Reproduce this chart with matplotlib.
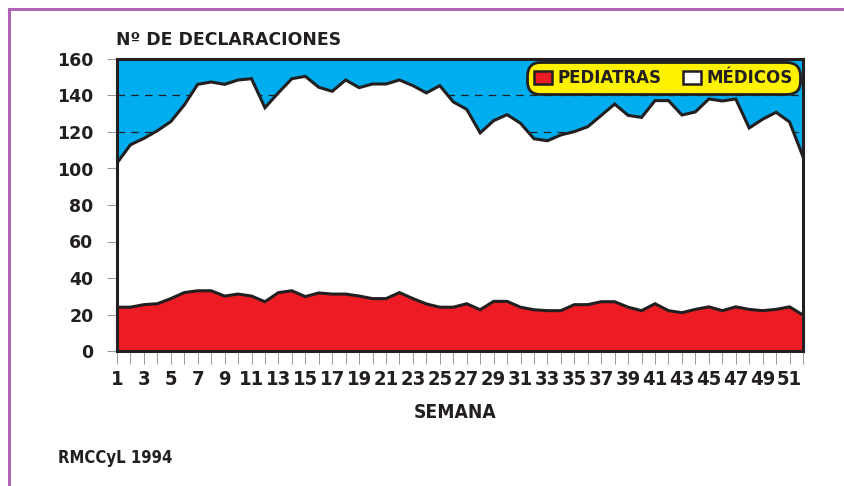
import matplotlib
matplotlib.use("Agg")
import matplotlib.pyplot as plt
from matplotlib.patches import Patch
from matplotlib.lines import Line2D

weeks = list(range(1, 53))
medicos = [103, 113, 116.5, 120.7, 125.7, 134.8, 146.1, 147.4, 146.1, 148.5,
           149.2, 133.3, 141.5, 149.2, 150.5, 144.5, 142.3, 148.5, 144.3, 146.3,
           146.3, 148.5, 145.4, 141.4, 145.4, 136.5, 132.4, 119.5, 126.2, 129.5,
           124.8, 116.3, 115.2, 118.4, 120.2, 122.9, 129.1, 135.3, 129.1, 128.0,
           137.2, 137.2, 129.3, 131.0, 138.1, 137.0, 138.1, 122.2, 127.0, 130.8,
           125.5, 106.5]
pediatras = [24, 24, 25.4, 25.9, 28.7, 32, 33, 33, 30.1, 31.2,
             30.1, 27, 32, 33, 29.8, 31.8, 31.2, 31.2, 30.1, 28.7,
             28.7, 32, 28.7, 25.8, 24, 24, 25.9, 22.6, 27.2, 27.2,
             24, 22.6, 22.1, 22.1, 25.4, 25.4, 27, 27, 24, 22.1,
             25.9, 22.1, 21, 22.8, 24.2, 22.1, 24.2, 22.8, 22.1, 22.8,
             24.2, 19.7]
yticks = [0, 20, 40, 60, 80, 100, 120, 140, 160]
xtick_labels = [str(w) if w % 2 == 1 else "" for w in weeks]
series_names = ["PEDIATRAS", "MÉDICOS"]

DARK = "#231f20"
BLUE = "#00aeef"
RED = "#ed1c24"
YELLOW = "#fff200"
PURPLE = "#b062b4"

W, H = 845, 486
fig = plt.figure(figsize=(W / 100, H / 100), dpi=100)
fig.patch.set_facecolor("white")

l, r, t, b = 117, 803, 59, 351
ax = fig.add_axes([l / W, 1 - b / H, (r - l) / W, (b - t) / H])
ax.set_facecolor(BLUE)
ax.set_axisbelow(True)

ax.fill_between(weeks, 0, medicos, color="white", zorder=2, linewidth=0)
ax.plot(weeks, medicos, color=DARK, lw=2.2, zorder=4, solid_joinstyle="miter")
ax.fill_between(weeks, 0, pediatras, color=RED, zorder=3, linewidth=0)
ax.plot(weeks, pediatras, color=DARK, lw=2.2, zorder=4, solid_joinstyle="miter")

ax.set_xlim(1, 52)
ax.set_ylim(0, 160)
ax.set_yticks(yticks)
ax.yaxis.grid(True, linestyle=(0, (6, 5)), color=DARK, linewidth=0.9)

BOLD = dict(family="DejaVu Sans", weight="bold")
COND = dict(family="DejaVu Sans", weight="bold", stretch="condensed")

ax.set_yticklabels([str(v) for v in yticks], size=12.5, color=DARK, **BOLD)
ax.set_xticks(weeks)
ax.set_xticklabels(xtick_labels, size=14.5, color=DARK, **COND)
ax.tick_params(axis="x", length=9, width=0.7, color="#9a9a9a", pad=5)
ax.tick_params(axis="y", length=7, width=0.7, color="#9a9a9a", pad=10)

for s in ax.spines.values():
    s.set_color(DARK)
    s.set_linewidth(2.2)
    s.set_zorder(5)

# title and labels
fig.text(116 / W, 1 - 40 / H, "Nº DE DECLARACIONES", size=12.4, color=DARK,
         va="center", ha="left", **BOLD)
fig.text(455 / W, 1 - 412 / H, "SEMANA", size=13.8, color=DARK,
         va="center", ha="center", **COND)
fig.text(58 / W, 1 - 458 / H, "RMCCyL 1994", size=12, color=DARK,
         va="center", ha="left", **COND)

# legend
handles = [Patch(facecolor=RED, edgecolor=DARK, linewidth=1.8, label=series_names[0]),
           Patch(facecolor="white", edgecolor=DARK, linewidth=1.8, label=series_names[1])]
leg = ax.legend(handles=handles, loc="upper right", ncol=2, frameon=True,
                fancybox=True, facecolor=YELLOW, edgecolor=DARK, framealpha=1,
                prop=dict(family="DejaVu Sans", weight="bold", size=12),
                handlelength=1.05, handleheight=0.75, handletextpad=0.35,
                columnspacing=1.3, borderpad=0.22, borderaxespad=0.4)
leg.get_frame().set_linewidth(2)
leg.get_frame().set_boxstyle("round,pad=0.2,rounding_size=0.8")
for txt in leg.get_texts():
    txt.set_color(DARK)
leg.set_zorder(6)

# purple frame
fig.add_artist(Line2D([9 / W, 1], [1 - 9 / H, 1 - 9 / H], color=PURPLE, lw=2.2,
                      transform=fig.transFigure))
fig.add_artist(Line2D([9 / W, 9 / W], [1 - 9 / H, 0], color=PURPLE, lw=2.2,
                      transform=fig.transFigure))

fig.savefig("out.png", dpi=100)
